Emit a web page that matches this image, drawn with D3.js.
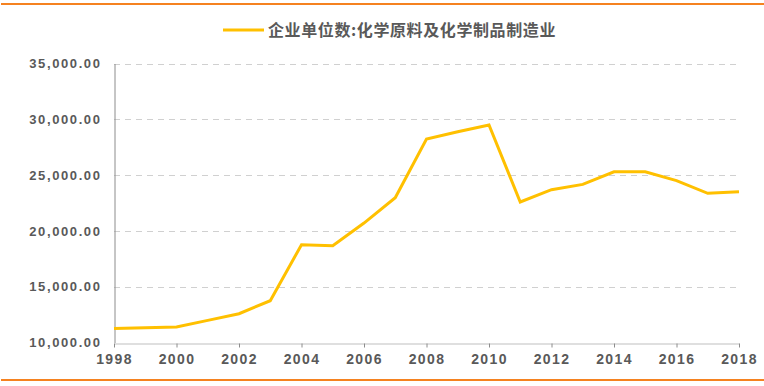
<!DOCTYPE html>
<html>
<head>
<meta charset="utf-8">
<script src="https://cdn.jsdelivr.net/npm/d3@7/dist/d3.min.js"></script>
<style>
  body { margin: 0; background: #fff; }
  svg { display: block; }
</style>
</head>
<body>
<div id="chart"></div>
<script>
// 数据
const years = [1998, 1999, 2000, 2001, 2002, 2003, 2004, 2005, 2006, 2007, 2008,
               2009, 2010, 2011, 2012, 2013, 2014, 2015, 2016, 2017, 2018];
const values = [11250, 11320, 11390, 11980, 12580, 13745, 18760, 18670, 20700, 22975, 28230,
                28890, 29490, 22590, 23690, 24170, 25300, 25300, 24500, 23370, 23510];
const yTicks = [10000, 15000, 20000, 25000, 30000, 35000];
const xTicks = [1998, 2000, 2002, 2004, 2006, 2008, 2010, 2012, 2014, 2016, 2018];
const seriesName = "企业单位数:化学原料及化学制品制造业";

const width = 764, height = 386;
const margin = { top: 63.5, right: 25, bottom: 43.5, left: 114 };

const svg = d3.select('#chart').append('svg')
  .attr('width', width)
  .attr('height', height);

// 上下橙色边线
svg.append('line').attr('x1', 1).attr('x2', width).attr('y1', 4).attr('y2', 4)
  .attr('stroke', '#F58220').attr('stroke-width', 2);
svg.append('line').attr('x1', 1).attr('x2', width).attr('y1', 380).attr('y2', 380)
  .attr('stroke', '#F58220').attr('stroke-width', 2);

const x = d3.scaleLinear().domain([1998, 2018]).range([margin.left, width - margin.right]);
const y = d3.scaleLinear().domain([10000, 35000]).range([height - margin.bottom, margin.top]);

const fmt = d3.format(',.2f');
const font = '"Liberation Sans", Arial, sans-serif';

// 网格线
svg.append('g')
  .selectAll('line')
  .data(yTicks.slice(1))
  .join('line')
  .attr('x1', margin.left)
  .attr('x2', width - margin.right)
  .attr('y1', d => Math.round(y(d)) + 0.5)
  .attr('y2', d => Math.round(y(d)) + 0.5)
  .attr('stroke', '#D0D0D0')
  .attr('stroke-dasharray', '6,5');

// Y 轴
const yAxis = svg.append('g')
  .attr('transform', `translate(${margin.left + 0.5},0)`)
  .call(d3.axisLeft(y).tickValues(yTicks).tickSize(0).tickPadding(13).tickFormat(fmt));
yAxis.select('.domain').attr('stroke', '#8C8C8C');
yAxis.selectAll('text')
  .attr('font-family', font)
  .attr('font-size', 13)
  .attr('font-weight', 'bold')
  .attr('letter-spacing', 1.6)
  .attr('fill', '#595959');

// X 轴
const xAxis = svg.append('g')
  .attr('transform', `translate(0,${Math.round(y(10000)) + 0.5})`)
  .call(d3.axisBottom(x).tickValues(xTicks).tickSize(4).tickSizeOuter(0).tickPadding(7).tickFormat(d3.format('d')));
xAxis.select('.domain').attr('stroke', '#BFBFBF');
xAxis.selectAll('.tick line').attr('stroke', '#8C8C8C');
xAxis.selectAll('text')
  .attr('font-family', font)
  .attr('font-size', 14)
  .attr('font-weight', 'bold')
  .attr('letter-spacing', 1.4)
  .attr('fill', '#595959');

// 折线
const line = d3.line()
  .x((d, i) => x(years[i]))
  .y(d => y(d));

svg.append('path')
  .datum(values)
  .attr('fill', 'none')
  .attr('stroke', '#FFC000')
  .attr('stroke-width', 3)
  .attr('stroke-linejoin', 'miter')
  .attr('d', line);

// 图例
const legend = svg.append('g').attr('transform', 'translate(223,30)');
legend.append('line')
  .attr('x1', 0).attr('x2', 41).attr('y1', 0).attr('y2', 0)
  .attr('stroke', '#FFC000').attr('stroke-width', 3);
legend.append('text')
  .attr('x', 45)
  .attr('y', 6)
  .attr('font-family', '"Noto Sans CJK SC", sans-serif')
  .attr('font-size', 16)
  .attr('font-weight', 'bold')
  .attr('letter-spacing', 0.6)
  .attr('fill', '#595959')
  .text(seriesName);
</script>
</body>
</html>
